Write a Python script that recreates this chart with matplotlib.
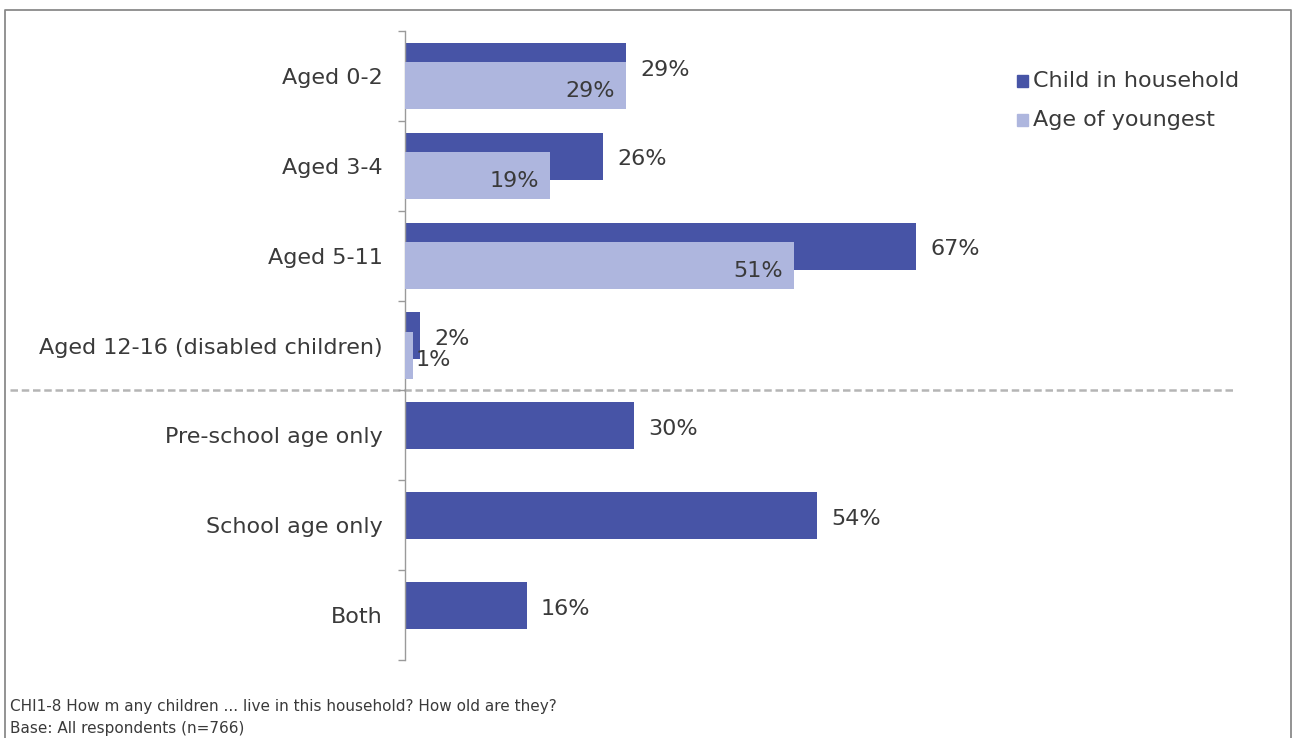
import matplotlib
matplotlib.use("Agg")
import matplotlib.pyplot as plt
from matplotlib import transforms
from matplotlib.lines import Line2D
from matplotlib.patches import Rectangle

# Survey data: share of respondents (%)
categories = ["Aged 0-2", "Aged 3-4", "Aged 5-11", "Aged 12-16 (disabled children)",
              "Pre-school age only", "School age only", "Both"]
child_in_household = [29, 26, 67, 2, 30, 54, 16]
age_of_youngest = [29, 19, 51, 1, None, None, None]
series_names = ["Child in household", "Age of youngest"]
footnotes = ["CHI1-8 How m any children ... live in this household? How old are they?",
             "Base: All respondents (n=766)"]

DARK = "#4754A6"
LIGHT = "#AEB6DE"
TEXT = "#3a3a3a"

W, H = 1296, 738
fig = plt.figure(figsize=(W / 100, H / 100), dpi=100)
plt.rcParams["font.family"] = ["DejaVu Sans"]

# axes placed in pixel terms
x0, x1 = 405, 1168
y_top, y_bot = 31, 660
ax = fig.add_axes([x0 / W, 1 - y_bot / H, (x1 - x0) / W, (y_bot - y_top) / H])

n = len(categories)
pos = list(range(n))
bar_h = 0.523
off = 0.106

dark_y = [p - off for p in pos]
ax.barh(dark_y, child_in_household, height=bar_h, color=DARK, zorder=2)

light_pos = [p + off for p, v in zip(pos, age_of_youngest) if v is not None]
light_vals = [v for v in age_of_youngest if v is not None]
ax.barh(light_pos, light_vals, height=bar_h, color=LIGHT, zorder=3)

ax.set_xlim(0, 100)
ax.set_ylim(n - 0.5, -0.5)

fs = 16
for y, v in zip(dark_y, child_in_household):
    ax.annotate(f"{v}%", (v, y + 0.035), xytext=(10, 0), textcoords="offset points",
                va="center", ha="left", fontsize=fs, color=TEXT, zorder=5)
for y, v in zip(light_pos, light_vals):
    if v >= 5:
        ax.annotate(f"{v}%", (v, y + 0.06), xytext=(-8, 0), textcoords="offset points",
                    va="center", ha="right", fontsize=fs, color=TEXT, zorder=5)
    else:
        ax.annotate(f"{v}%", (v, y + 0.05), xytext=(2, 0), textcoords="offset points",
                    va="center", ha="left", fontsize=fs, color=TEXT, zorder=5)

# y axis styling
for s in ["top", "right", "bottom"]:
    ax.spines[s].set_visible(False)
ax.spines["left"].set_color("#9a9a9a")
ax.spines["left"].set_linewidth(1.0)
ax.set_yticks(pos)
ax.set_yticklabels(categories, fontsize=fs, color=TEXT)
ax.tick_params(axis="y", which="major", length=0, pad=16)
ax.set_yticks([p - 0.5 for p in range(n + 1)], minor=True)
ax.tick_params(axis="y", which="minor", length=5, color="#9a9a9a", width=1.0)
ax.set_xticks([])

# dashed separator between the two groups
blend = transforms.blended_transform_factory(fig.transFigure, ax.transData)
ax.add_line(Line2D([10 / W, 1235 / W], [3.5, 3.5], transform=blend, clip_on=False,
                   color="#b5b5b5", lw=1.8, ls=(0, (3, 1.5)), zorder=1))

# legend
lx, ly = 1022 / W, 1 - 81 / H
for i, (name, col) in enumerate(zip(series_names, [DARK, LIGHT])):
    yy = ly - i * (39 / H)
    fig.patches.append(Rectangle((lx - 5 / W, yy - 6 / H), 11 / W, 12 / H,
                                 transform=fig.transFigure, color=col))
    fig.text(lx + 11 / W, yy, name, fontsize=fs, color=TEXT, va="center", ha="left")

# footnotes
fig.text(10 / W, 1 - 706 / H, footnotes[0], fontsize=11, color=TEXT, va="center", ha="left")
fig.text(10 / W, 1 - 729 / H, footnotes[1], fontsize=11, color=TEXT, va="center", ha="left")

# outer frame
fig.add_artist(Line2D([5 / W, 5 / W, 1291 / W, 1291 / W], [-0.1, 1 - 10 / H, 1 - 10 / H, -0.1],
                      transform=fig.transFigure, color="#8a8a8a", lw=1.3))

fig.savefig("out.png", dpi=100, facecolor="white")
